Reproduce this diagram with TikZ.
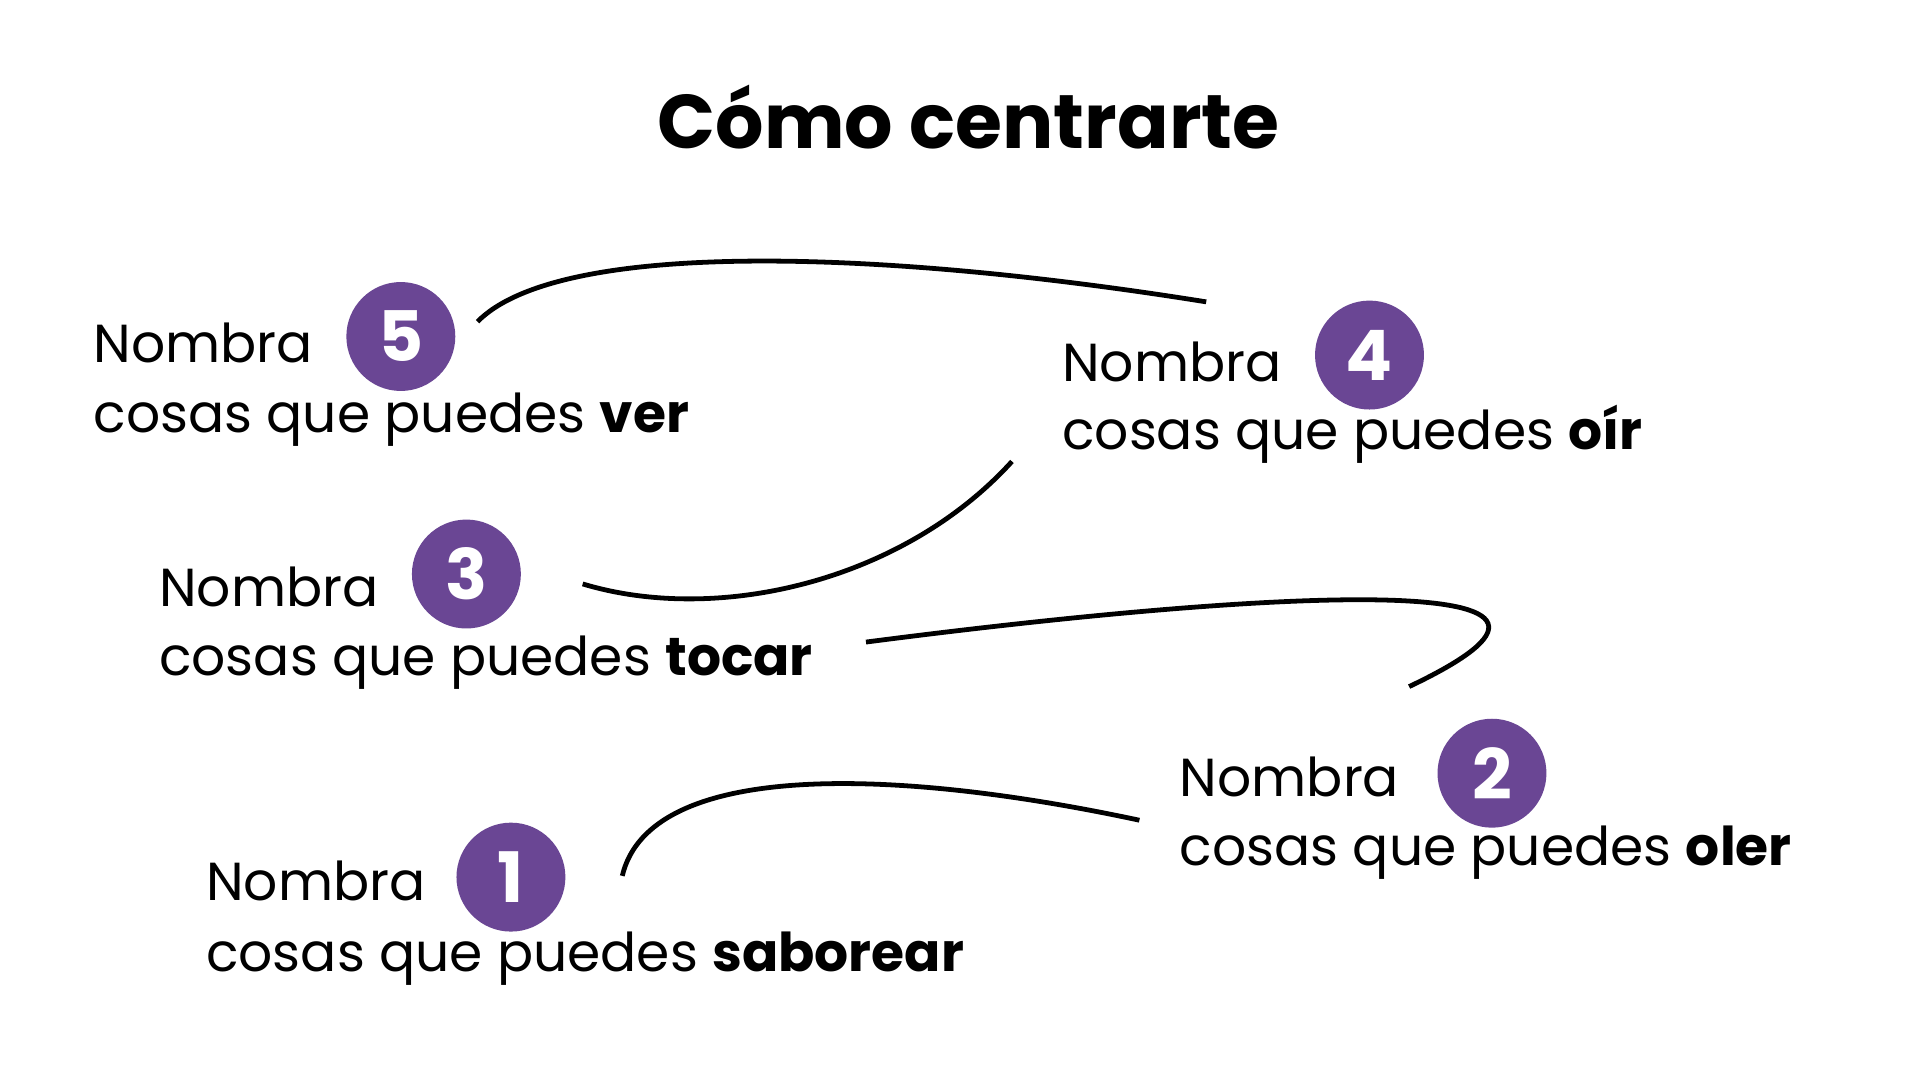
\documentclass[tikz,border=0pt]{standalone}
\usepackage{fontspec}
\setmainfont{Poppins}
\usetikzlibrary{positioning}
\definecolor{morado}{HTML}{6A4694}
\begin{document}
\begin{tikzpicture}[
                            x=0.01cm, y=-0.01cm,
                            num/.style={circle, fill=morado, text=white, minimum size=0.88cm, inner sep=0pt, font=\fontsize{16}{16}\selectfont\bfseries},
                            lbl/.style={anchor=base west, inner sep=0pt, font=\fontsize{12.3}{12.3}\selectfont},
                            curva/.style={draw, line width=1.1pt}
                            ]
            
                            \useasboundingbox[fill=white] (0,0) rectangle (1552,873);
                            \node [anchor=base, font=\fontsize{17.5}{17.5}\selectfont\bfseries] (titulo) at (783,120) {Cómo centrarte};
                            
                            \node [lbl] (nombra5) at (75,293) {Nombra};
                            \node [lbl] (texto5) at (75,350) {cosas que puedes \textbf{ver}};
                            \node [num] (c5) at (324,272) {5};
                            \node [lbl] (nombra4) at (858,308) {Nombra};
                            \node [lbl] (texto4) at (858,363) {cosas que puedes \textbf{oír}};
                            \node [num] (c4) at (1107,287) {4};
                            \node [lbl] (nombra3) at (128,490) {Nombra};
                            \node [lbl] (texto3) at (128,546) {cosas que puedes \textbf{tocar}};
                            \node [num] (c3) at (377,464) {3};
                            \node [lbl] (nombra2) at (953,644) {Nombra};
                            \node [lbl] (texto2) at (953,700) {cosas que puedes \textbf{oler}};
                            \node [num] (c2) at (1206,625) {2};
                            \node [lbl] (nombra1) at (166,728) {Nombra};
                            \node [lbl] (texto1) at (166,785) {cosas que puedes \textbf{saborear}};
                            \node [num] (c1) at (413,709) {1};
                            
                            \coordinate (a1) at (386,260);
                            \coordinate (a2) at (975,244);
                            \coordinate (b1) at (818,373);
                            \coordinate (b2) at (471,472);
                            \coordinate (d1) at (700,519);
                            \coordinate (d2) at (1139,555);
                            \coordinate (e1) at (503,708);
                            \coordinate (e2) at (921,663);
                            
                            \draw[curva] (a1) .. controls (450,195) and (700,200) .. (a2);
                            \draw[curva] (b1) .. controls (730,470) and (580,505) .. (b2);
                            \draw[curva] (d1) .. controls (1000,480) and (1350,455) .. (d2);
                            \draw[curva] (e1) .. controls (525,615) and (720,620) .. (e2);
                        \end{tikzpicture}
\end{document}
